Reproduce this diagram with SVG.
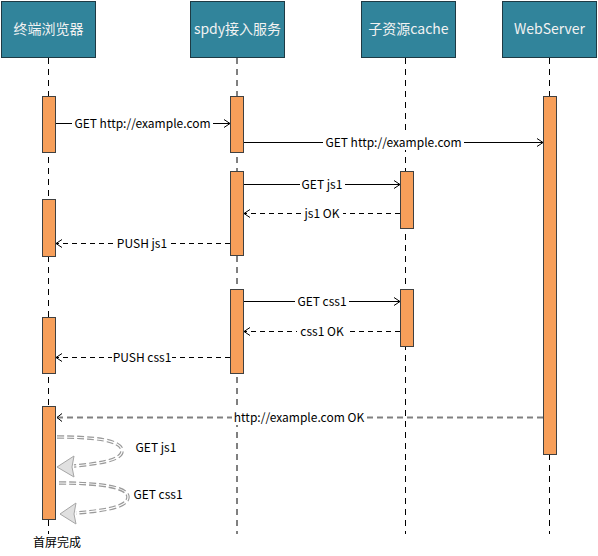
<svg xmlns="http://www.w3.org/2000/svg" width="598" height="556" viewBox="0 0 598 556">
<style>
.hdr{fill:#31849B;stroke:#1E3A44;stroke-width:1}
.htxt{font-family:"Noto Sans CJK SC","Liberation Sans",sans-serif;font-size:14px;fill:#F2F2F2;text-anchor:middle}
.life{stroke:#000;stroke-width:1;stroke-dasharray:6 5;fill:none}
.act{fill:#F79F5A;stroke:#404040;stroke-width:1}
.msg{stroke:#000;stroke-width:1;fill:none}
.ret{stroke:#000;stroke-width:1;stroke-dasharray:5 4;fill:none}
.ret2{stroke:#808080;stroke-width:2;stroke-dasharray:6 4;fill:none}
.lbl{font-family:"Noto Sans CJK SC","Liberation Sans",sans-serif;font-size:12px;fill:#000;text-anchor:middle}
.bg{fill:#fff}
.selfo{stroke:#9a9a9a;stroke-width:3.5;fill:none;stroke-dasharray:7 3}
.selfi{stroke:#fff;stroke-width:1.2;fill:none}
.ahead{fill:#E0E0E0;stroke:#A6A6A6;stroke-width:1}
</style>
<defs>
<marker id="open" markerWidth="8" markerHeight="10" refX="7" refY="5" orient="auto" markerUnits="userSpaceOnUse">
<path d="M1,1 L7,5 L1,9" fill="none" stroke="#000" stroke-width="1"/>
</marker>
</defs>
<g id="lifelines">
<line class="life" x1="48.5" y1="58" x2="48.5" y2="534"/>
<line class="life" x1="237" y1="58" x2="237" y2="534"/>
<line class="life" x1="405.5" y1="58" x2="405.5" y2="534"/>
<line class="life" x1="549.5" y1="58" x2="549.5" y2="534"/>
</g>
<g id="browser"><rect class="hdr" x="1.5" y="1.5" width="94" height="56"/><text class="htxt" x="48.5" y="34">终端浏览器</text></g>
<g id="spdy"><rect class="hdr" x="190.5" y="1.5" width="94" height="56"/><text class="htxt" x="237.5" y="34">spdy接入服务</text></g>
<g id="cache"><rect class="hdr" x="361.5" y="1.5" width="94" height="56"/><text class="htxt" x="408.5" y="34">子资源cache</text></g>
<g id="webserver"><rect class="hdr" x="502.5" y="1.5" width="94" height="56"/><text class="htxt" x="549.5" y="34">WebServer</text></g>
<g id="activations">
<rect class="act" x="42.5" y="96.5" width="13" height="56"/>
<rect class="act" x="230.5" y="96.5" width="13" height="56"/>
<rect class="act" x="543.5" y="96.5" width="13" height="358"/>
<rect class="act" x="230.5" y="171.5" width="13" height="84"/>
<rect class="act" x="400.5" y="171.5" width="13" height="57"/>
<rect class="act" x="42.5" y="199.5" width="13" height="57"/>
<rect class="act" x="230.5" y="289.5" width="13" height="84"/>
<rect class="act" x="400.5" y="289.5" width="13" height="57"/>
<rect class="act" x="42.5" y="317.5" width="13" height="56"/>
<rect class="act" x="42.5" y="406.5" width="13" height="113"/>
</g>
<g id="connectors">
<line class="msg" x1="56" y1="123.5" x2="230" y2="123.5" marker-end="url(#open)"/>
<rect class="bg" x="72" y="116" width="141" height="15"/>
<text class="lbl" x="142.5" y="128">GET http://example.com</text>
<line class="msg" x1="244" y1="142.5" x2="543" y2="142.5" marker-end="url(#open)"/>
<rect class="bg" x="323" y="135" width="141" height="15"/>
<text class="lbl" x="393.5" y="147">GET http://example.com</text>
<line class="msg" x1="244" y1="184.5" x2="400" y2="184.5" marker-end="url(#open)"/>
<rect class="bg" x="300" y="177" width="45" height="15"/>
<text class="lbl" x="322" y="189">GET js1</text>
<line class="ret" x1="400" y1="213.5" x2="244" y2="213.5" marker-end="url(#open)"/>
<rect class="bg" x="302" y="206" width="41" height="15"/>
<text class="lbl" x="322" y="218">js1 OK</text>
<line class="ret" x1="230" y1="243.5" x2="56" y2="243.5" marker-end="url(#open)"/>
<rect class="bg" x="115" y="236" width="53" height="15"/>
<text class="lbl" x="142" y="248">PUSH js1</text>
<line class="msg" x1="244" y1="301.5" x2="400" y2="301.5" marker-end="url(#open)"/>
<rect class="bg" x="295" y="294" width="54" height="15"/>
<text class="lbl" x="322" y="306">GET css1</text>
<line class="ret" x1="400" y1="331.5" x2="244" y2="331.5" marker-end="url(#open)"/>
<rect class="bg" x="297" y="324" width="50" height="15"/>
<text class="lbl" x="322" y="336">css1 OK</text>
<line class="ret" x1="230" y1="357.5" x2="56" y2="357.5" marker-end="url(#open)"/>
<rect class="bg" x="112" y="350" width="60" height="15"/>
<text class="lbl" x="142" y="362">PUSH css1</text>
<line class="ret2" x1="543" y1="417.5" x2="56" y2="417.5"/>
<path d="M62,413.5 L57,417.5 L62,421.5" fill="none" stroke="#000" stroke-width="1"/>
<rect class="bg" x="232" y="410" width="134" height="15"/>
<text class="lbl" x="299" y="422">http://example.com OK</text>
<path class="selfo" d="M57,437 C95,437 122,440 122,451 C122,461 95,464 74,466"/>
<path class="selfi" d="M57,437 C95,437 122,440 122,451 C122,461 95,464 74,466"/>
<path class="ahead" d="M57,467 L74,456 L72,467 L74,477 Z"/>
<text class="lbl" x="156" y="452">GET js1</text>
<path class="selfo" d="M59,483 C100,483 128,487 128,497 C128,508 100,511 76,513"/>
<path class="selfi" d="M59,483 C100,483 128,487 128,497 C128,508 100,511 76,513"/>
<path class="ahead" d="M60,514 L76,503 L74,514 L76,524 Z"/>
<text class="lbl" x="158" y="499">GET css1</text>
</g>
<g id="done"><rect class="bg" x="30" y="535" width="54" height="18"/><text class="lbl" x="57" y="547">首屏完成</text></g>
</svg>
